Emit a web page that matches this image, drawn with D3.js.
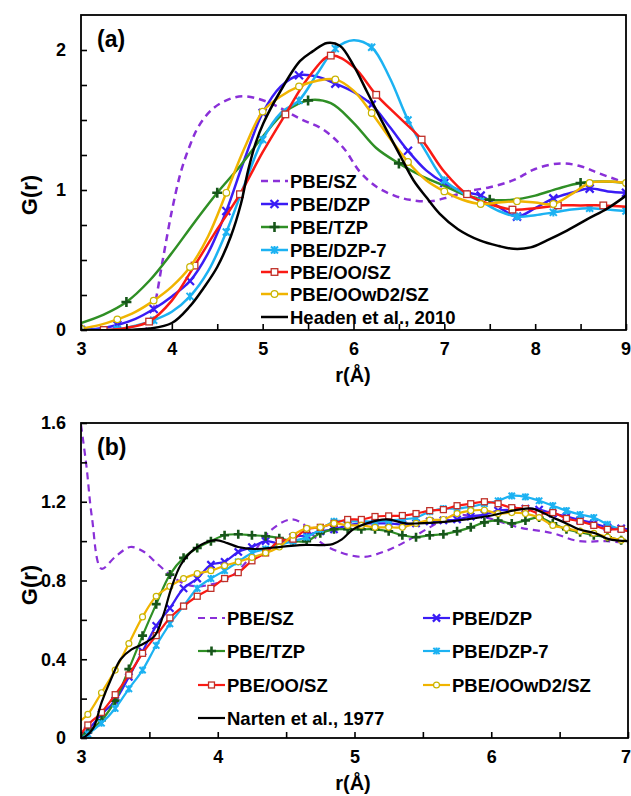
<!DOCTYPE html>
<html><head><meta charset="utf-8">
<script src="https://cdn.jsdelivr.net/npm/d3@7"></script>
<style>body{margin:0;background:#fff} text{font-family:"Liberation Sans",Arial,sans-serif;font-weight:bold;fill:#000}</style>
</head><body><svg id="c" width="631" height="796"></svg>
<script>
// ---------- DATA : panel (a) ----------
const rA02 = [3.0,3.2,3.4,3.6,3.8,4.0,4.2,4.4,4.6,4.8,5.0,5.2,5.4,5.6,5.8,6.0,6.2,6.4,6.6,6.8,7.0,7.2,7.4,7.6,7.8,8.0,8.2,8.4,8.6,8.8,9.0];
const rA025 = [3.0,3.25,3.5,3.75,4.0,4.25,4.5,4.75,5.0,5.25,5.5,5.75,6.0,6.25,6.5,6.75,7.0,7.25,7.5,7.75,8.0,8.25,8.5,8.75,9.0];
const gA_DZP = [0.0,0.01,0.036,0.08,0.15,0.24,0.35,0.55,0.85,1.22,1.55,1.74,1.82,1.81,1.76,1.70,1.61,1.45,1.28,1.14,1.05,0.99,0.96,0.88,0.81,0.87,0.94,0.98,1.01,0.99,0.98];
const gA_DZP7 = [0.0,0.0,0.005,0.03,0.07,0.13,0.24,0.42,0.70,1.04,1.36,1.55,1.64,1.83,2.01,2.07,2.02,1.80,1.50,1.27,1.07,0.98,0.92,0.85,0.81,0.82,0.84,0.86,0.87,0.86,0.85];
const gA_OOwD2 = [0.01,0.035,0.076,0.13,0.21,0.31,0.45,0.67,0.98,1.30,1.56,1.67,1.74,1.78,1.79,1.71,1.55,1.37,1.20,1.07,0.99,0.93,0.90,0.91,0.92,0.91,0.90,0.97,1.05,1.06,1.05];
const gA_TZP = [0.05,0.11,0.20,0.35,0.55,0.77,0.98,1.17,1.38,1.56,1.64,1.62,1.48,1.30,1.19,1.10,1.03,0.96,0.93,0.93,0.96,1.01,1.05,1.06,1.05];
const gA_OO = [0.0,0.0,0.015,0.06,0.21,0.46,0.72,0.97,1.27,1.54,1.80,1.96,1.88,1.68,1.52,1.36,1.13,0.97,0.90,0.86,0.87,0.89,0.89,0.89,0.88];
const gA_SZ = [[3.0,0],[3.5,0],[3.72,0.01],[3.8,0.15],[3.9,0.5],[4.0,0.85],[4.1,1.13],[4.2,1.32],[4.3,1.46],[4.45,1.58],[4.6,1.64],[4.78,1.67],[5.05,1.63],[5.41,1.51],[5.67,1.43],[5.89,1.30],[6.07,1.13],[6.26,1.02],[6.45,0.96],[6.62,0.93],[6.85,0.92],[7.05,0.95],[7.25,0.99],[7.5,1.02],[7.76,1.07],[8.0,1.15],[8.28,1.19],[8.5,1.17],[8.7,1.12],[9.0,1.05]];
const gA_Headen = [[3.0,0],[3.5,0],[3.75,0.01],[4.0,0.05],[4.2,0.17],[4.35,0.3],[4.5,0.45],[4.65,0.67],[4.76,0.9],[4.84,1.14],[4.92,1.33],[5.01,1.48],[5.19,1.70],[5.41,1.92],[5.55,1.99],[5.71,2.05],[5.85,2.03],[6.0,1.89],[6.15,1.70],[6.33,1.47],[6.51,1.25],[6.66,1.07],[6.8,0.95],[6.95,0.83],[7.15,0.72],[7.39,0.64],[7.6,0.60],[7.76,0.58],[7.95,0.59],[8.13,0.64],[8.35,0.71],[8.57,0.79],[8.8,0.87],[9.0,0.96]];

// ---------- DATA : panel (b) ----------
const rB = [3.0,3.05,3.15,3.25,3.35,3.45,3.55,3.65,3.75,3.85,3.95,4.05,4.15,4.25,4.35,4.45,4.55,4.65,4.75,4.85,4.95,5.05,5.15,5.25,5.35,5.45,5.55,5.65,5.75,5.85,5.95,6.05,6.15,6.25,6.35,6.45,6.55,6.65,6.75,6.85,6.95,7.0];
const gB_TZP = [0.01,0.03,0.09,0.19,0.35,0.52,0.68,0.83,0.915,0.965,1.0,1.03,1.035,1.03,1.025,1.015,1.0,1.0,1.04,1.06,1.06,1.06,1.06,1.05,1.03,1.02,1.03,1.035,1.05,1.07,1.095,1.105,1.09,1.105,1.12,1.09,1.06,1.045,1.03,1.02,1.005,1.0];
const gB_OO = [0.02,0.066,0.13,0.22,0.32,0.43,0.52,0.61,0.67,0.72,0.76,0.81,0.84,0.90,0.94,1.0,1.01,1.06,1.07,1.09,1.11,1.11,1.125,1.128,1.13,1.14,1.155,1.16,1.18,1.19,1.20,1.19,1.17,1.165,1.14,1.145,1.115,1.10,1.08,1.06,1.06,1.05];
const gB_DZP7 = [0.0,0.02,0.075,0.15,0.25,0.345,0.47,0.58,0.67,0.76,0.81,0.85,0.895,0.94,0.96,0.98,1.0,1.02,1.06,1.10,1.10,1.10,1.10,1.105,1.11,1.12,1.15,1.165,1.165,1.175,1.19,1.205,1.23,1.225,1.205,1.18,1.155,1.135,1.12,1.085,1.06,1.05];
const gB_DZP = [0.01,0.04,0.12,0.19,0.31,0.44,0.57,0.66,0.76,0.81,0.88,0.895,0.945,0.97,1.0,0.99,1.02,1.03,1.05,1.06,1.08,1.09,1.09,1.09,1.085,1.09,1.10,1.105,1.11,1.125,1.135,1.155,1.16,1.165,1.16,1.14,1.125,1.107,1.09,1.07,1.065,1.06];
const gB_OOwD2 = [0.09,0.12,0.23,0.345,0.48,0.615,0.72,0.77,0.81,0.835,0.85,0.875,0.895,0.917,0.94,0.97,1.03,1.065,1.07,1.09,1.08,1.08,1.07,1.07,1.07,1.09,1.107,1.11,1.14,1.155,1.157,1.14,1.145,1.14,1.12,1.08,1.065,1.05,1.04,1.02,1.005,1.0];
const gB_SZ = [[3.0,1.59],[3.04,1.38],[3.08,1.12],[3.15,0.86],[3.25,0.92],[3.36,0.97],[3.45,0.95],[3.55,0.89],[3.65,0.83],[3.75,0.785],[3.85,0.77],[3.95,0.78],[4.05,0.8],[4.15,0.85],[4.25,0.93],[4.38,1.05],[4.53,1.11],[4.62,1.09],[4.74,1.0],[4.87,0.95],[5.06,0.92],[5.23,0.95],[5.38,1.0],[5.55,1.07],[5.72,1.13],[5.85,1.13],[5.96,1.12],[6.2,1.07],[6.45,1.04],[6.64,1.0],[6.84,1.0],[7.0,0.99]];
const gB_Narten = [[3.0,0],[3.03,0.007],[3.09,0.05],[3.15,0.18],[3.22,0.30],[3.29,0.40],[3.37,0.45],[3.46,0.48],[3.54,0.52],[3.60,0.62],[3.66,0.76],[3.73,0.88],[3.83,0.96],[3.98,1.005],[4.07,0.99],[4.15,0.97],[4.26,0.96],[4.45,0.97],[4.6,0.98],[4.84,0.985],[4.91,1.01],[4.99,1.06],[5.09,1.09],[5.23,1.11],[5.38,1.09],[5.47,1.09],[5.7,1.10],[5.96,1.125],[6.2,1.16],[6.3,1.165],[6.45,1.12],[6.55,1.09],[6.64,1.06],[6.76,1.04],[6.86,1.01],[7.0,1.0]];

const xTicksA = [3,4,5,6,7,8,9];
const yTicksA = [0,1,2];
const xTicksB = [3,4,5,6,7];
const yTicksB = [0,0.4,0.8,1.2,1.6];

// ---------- STYLES ----------
const ST = {
  "PBE/SZ":      {color:"#8a30d8", dash:"7,5", marker:null},
  "PBE/DZP":     {color:"#3a1cf5", marker:"x",      mcolor:"#3a1cf5"},
  "PBE/TZP":     {color:"#2f8f25", marker:"plus",   mcolor:"#17561a"},
  "PBE/DZP-7":   {color:"#1cb2f2", marker:"star",   mcolor:"#1cb2f2"},
  "PBE/OO/SZ":   {color:"#fa1a14", marker:"square", mcolor:"#c03028"},
  "PBE/OOwD2/SZ":{color:"#f0b400", marker:"circle", mcolor:"#c8b400"},
  "ref":         {color:"#000000", marker:null}
};

const svg = d3.select("#c");

function drawMarker(g, type, x, y, col, s) {
  if (!type) return;
  if (type === "x") {
    g.append("path").attr("d",`M${x-4*s},${y-4*s}L${x+4*s},${y+4*s}M${x-4*s},${y+4*s}L${x+4*s},${y-4*s}`)
      .attr("stroke",col).attr("stroke-width",2.2).attr("fill","none");
  } else if (type === "plus") {
    g.append("path").attr("d",`M${x-5*s},${y}L${x+5*s},${y}M${x},${y-5*s}L${x},${y+5*s}`)
      .attr("stroke",col).attr("stroke-width",2.6).attr("fill","none");
  } else if (type === "star") {
    g.append("path").attr("d",`M${x-3.5*s},${y-3.5*s}L${x+3.5*s},${y+3.5*s}M${x-3.5*s},${y+3.5*s}L${x+3.5*s},${y-3.5*s}M${x},${y-4*s}L${x},${y+4*s}`)
      .attr("stroke",col).attr("stroke-width",2).attr("fill","none");
  } else if (type === "square") {
    g.append("rect").attr("x",x-3.3*s).attr("y",y-3.3*s).attr("width",6.6*s).attr("height",6.6*s)
      .attr("fill","#fff").attr("stroke",col).attr("stroke-width",1.3);
  } else if (type === "circle") {
    g.append("circle").attr("cx",x).attr("cy",y).attr("r",3.3*s)
      .attr("fill","#fff").attr("stroke",col).attr("stroke-width",1.2);
  }
}

function panel(cfg) {
  const x = d3.scaleLinear().domain(cfg.xd).range([cfg.L, cfg.R]);
  const y = d3.scaleLinear().domain(cfg.yd).range([cfg.B, cfg.T]);
  const g = svg.append("g");
  const clipId = "clip" + cfg.id;
  svg.append("clipPath").attr("id", clipId).append("rect")
    .attr("x", cfg.L).attr("y", cfg.T-10).attr("width", cfg.R-cfg.L).attr("height", cfg.B-cfg.T+10);

  const line = d3.line().x(d=>x(d[0])).y(d=>y(d[1])).curve(d3.curveCatmullRom.alpha(0.5));
  const plot = g.append("g").attr("clip-path", `url(#${clipId})`);
  cfg.series.forEach(s => {
    const st = ST[s.style];
    const pts = s.pts;
    plot.append("path").attr("d", line(pts)).attr("fill","none")
      .attr("stroke", st.color).attr("stroke-width", cfg.lw)
      .attr("stroke-dasharray", st.dash || null).attr("stroke-linejoin","round");
    if (st.marker) {
      pts.forEach((p,i) => {
        if (s.mk(i, pts.length)) drawMarker(plot, st.marker, x(p[0]), y(p[1]), st.mcolor, cfg.ms);
      });
    }
  });

  // frame
  g.append("rect").attr("x",cfg.L).attr("y",cfg.T).attr("width",cfg.R-cfg.L).attr("height",cfg.B-cfg.T)
    .attr("fill","none").attr("stroke","#000").attr("stroke-width",1.8);

  // axes
  const xa = g.append("g").attr("transform",`translate(0,${cfg.B})`)
    .call(d3.axisBottom(x).tickValues(cfg.xt).tickFormat(d3.format("d")).tickSizeInner(-6).tickSizeOuter(0).tickPadding(12));
  const xm = g.append("g").attr("transform",`translate(0,${cfg.B})`)
    .call(d3.axisBottom(x).tickValues(cfg.xminor).tickFormat("").tickSizeInner(-6).tickSizeOuter(0));
  const ya = g.append("g").attr("transform",`translate(${cfg.L},0)`)
    .call(d3.axisLeft(y).tickValues(cfg.yt).tickFormat(cfg.yf).tickSizeInner(-6).tickSizeOuter(0).tickPadding(15));
  const ym = g.append("g").attr("transform",`translate(${cfg.L},0)`)
    .call(d3.axisLeft(y).tickValues(cfg.yminor).tickFormat("").tickSizeInner(-6).tickSizeOuter(0));
  [xa,xm,ya,ym].forEach(a => { a.select(".domain").remove(); a.selectAll("line").attr("stroke","#000").attr("stroke-width",1.6); });
  [xa,ya].forEach(a => a.selectAll("text").attr("font-size",18).attr("font-family","Liberation Sans, Arial, sans-serif").attr("font-weight","bold").attr("fill","#000"));
  // keep the last x tick label inside the page
  const last = cfg.xt[cfg.xt.length-1];
  xa.selectAll(".tick").filter(d => d === last).select("text")
    .attr("text-anchor","end").attr("dx", (631 - cfg.R) - 0.5);

  // labels
  g.append("text").attr("x",cfg.L+16).attr("y",cfg.T+cfg.tagDy).attr("font-size",23).text(cfg.tag);
  g.append("text").attr("transform",`translate(${cfg.gx},${cfg.gy}) rotate(-90)`).attr("text-anchor","middle")
    .attr("font-size",22).text("G(r)");
  g.append("text").attr("x",cfg.rx).attr("y",cfg.ry).attr("text-anchor","middle").attr("font-size",20).text("r(Å)");

  // legend
  cfg.legend.forEach(it => {
    const st = ST[it.style];
    g.append("line").attr("x1",it.x).attr("x2",it.x+27).attr("y1",it.y).attr("y2",it.y)
      .attr("stroke",st.color).attr("stroke-width",cfg.lw).attr("stroke-dasharray", st.dash || null);
    if (st.marker) drawMarker(g, st.marker, it.x+13.5, it.y, st.mcolor, cfg.ms);
    g.append("text").attr("x",it.x+29).attr("y",it.y+6.5).attr("font-size",18.5).text(it.name);
  });
}

const zipA = (r,gv) => r.map((v,i)=>[v,gv[i]]);

panel({
  id:"a", L:81, R:626, T:15, B:330, xd:[3,9], yd:[0,2.25],
  xt:xTicksA, xminor:[3.5,4.5,5.5,6.5,7.5,8.5], yt:yTicksA, yminor:[0.25,0.5,0.75,1.25,1.5,1.75],
  yf:d3.format("d"), lw:2.5, ms:1.0, tag:"(a)", tagDy:32,
  gx:37, gy:195, rx:353, ry:382,
  series:[
    {style:"PBE/SZ", pts:gA_SZ},
    {style:"PBE/DZP", pts:zipA(rA02,gA_DZP), mk:(i)=>i%2===0},
    {style:"PBE/TZP", pts:zipA(rA025,gA_TZP), mk:(i)=>i%4===2},
    {style:"PBE/DZP-7", pts:zipA(rA02,gA_DZP7), mk:(i)=>i%2===0},
    {style:"PBE/OO/SZ", pts:zipA(rA025,gA_OO), mk:(i)=>i%2===1},
    {style:"PBE/OOwD2/SZ", pts:zipA(rA02,gA_OOwD2), mk:(i)=>i%2===0},
    {style:"ref", pts:gA_Headen}
  ],
  legend:[
    {style:"PBE/SZ", name:"PBE/SZ", x:261, y:181},
    {style:"PBE/DZP", name:"PBE/DZP", x:261, y:204},
    {style:"PBE/TZP", name:"PBE/TZP", x:261, y:227},
    {style:"PBE/DZP-7", name:"PBE/DZP-7", x:261, y:250},
    {style:"PBE/OO/SZ", name:"PBE/OO/SZ", x:261, y:272},
    {style:"PBE/OOwD2/SZ", name:"PBE/OOwD2/SZ", x:261, y:294},
    {style:"ref", name:"Headen et al., 2010", x:261, y:317}
  ]
});

panel({
  id:"b", L:81, R:628, T:423, B:738, xd:[3,7], yd:[0,1.6],
  xt:xTicksB, xminor:[3.5,4.5,5.5,6.5], yt:yTicksB, yminor:[0.2,0.6,1.0,1.4],
  yf:d3.format(".1~f"), lw:2.2, ms:0.9, tag:"(b)", tagDy:32,
  gx:37, gy:585, rx:353, ry:790,
  series:[
    {style:"PBE/SZ", pts:gB_SZ},
    {style:"PBE/DZP", pts:zipA(rB,gB_DZP), mk:(i,n)=>i>0&&i<n-1},
    {style:"PBE/TZP", pts:zipA(rB,gB_TZP), mk:(i,n)=>i>0&&i<n-1},
    {style:"PBE/DZP-7", pts:zipA(rB,gB_DZP7), mk:(i,n)=>i>0&&i<n-1},
    {style:"PBE/OO/SZ", pts:zipA(rB,gB_OO), mk:(i,n)=>i>0&&i<n-1},
    {style:"PBE/OOwD2/SZ", pts:zipA(rB,gB_OOwD2), mk:(i,n)=>i>0&&i<n-1},
    {style:"ref", pts:gB_Narten}
  ],
  legend:[
    {style:"PBE/SZ", name:"PBE/SZ", x:198, y:618},
    {style:"PBE/TZP", name:"PBE/TZP", x:198, y:651},
    {style:"PBE/OO/SZ", name:"PBE/OO/SZ", x:198, y:685},
    {style:"ref", name:"Narten et al., 1977", x:198, y:718},
    {style:"PBE/DZP", name:"PBE/DZP", x:423, y:618},
    {style:"PBE/DZP-7", name:"PBE/DZP-7", x:423, y:651},
    {style:"PBE/OOwD2/SZ", name:"PBE/OOwD2/SZ", x:423, y:685}
  ]
});
</script></body></html>
